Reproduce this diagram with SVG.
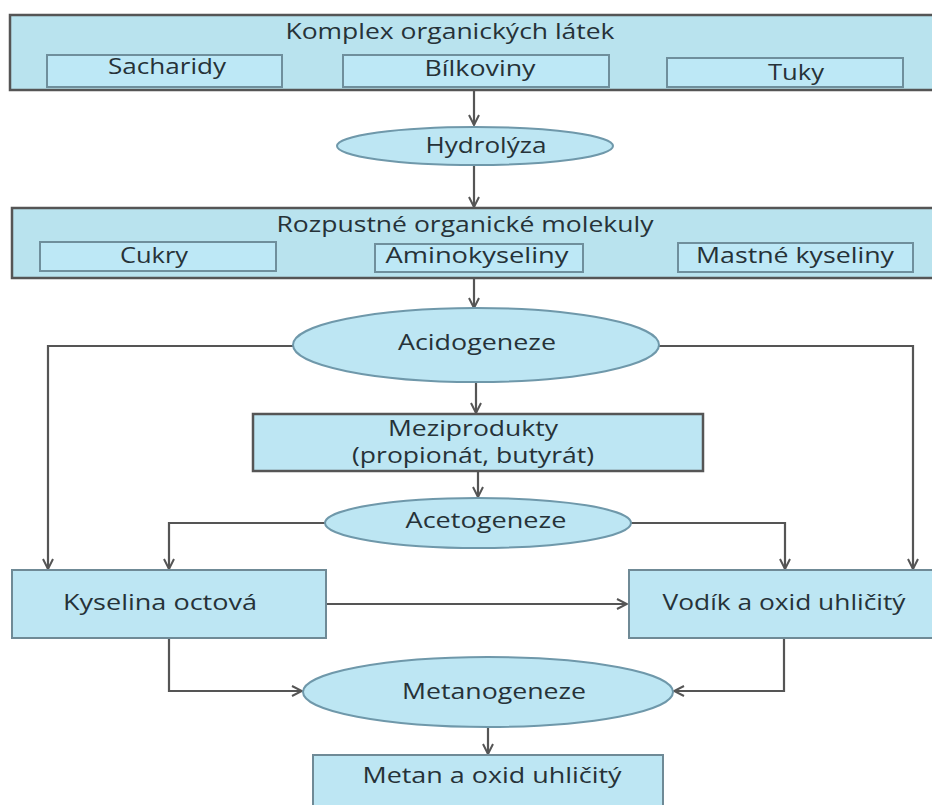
<svg xmlns="http://www.w3.org/2000/svg" width="932" height="805" viewBox="0 0 932 805">
<style>
.outer{fill:#b9e3ee;stroke:#555;stroke-width:2.5}
.inner{fill:#bde8f6;stroke:#6f8f9c;stroke-width:2}
.box{fill:#bde6f3;stroke:#6f8a96;stroke-width:2}
.ell{fill:#bde6f3;stroke:#6f98aa;stroke-width:2}
.mbox{fill:#bde6f3;stroke:#555;stroke-width:2.5}
text{font-family:"Open Sans","Liberation Sans",sans-serif;font-size:22px;font-weight:500;fill:#263238;text-anchor:middle}
.conn path{fill:none;stroke:#555;stroke-width:2.2}
</style>
<defs>
<marker id="arr" viewBox="0 0 12 12" refX="11" refY="6" markerWidth="12" markerHeight="12" markerUnits="userSpaceOnUse" orient="auto">
<path d="M1,1 L11,6 L1,11" fill="none" stroke="#555" stroke-width="2"/>
</marker>
</defs>
<rect width="932" height="805" fill="#fff"/>

<g class="conn">
<path d="M474,90 V125" marker-end="url(#arr)"/>
<path d="M474,165 V207" marker-end="url(#arr)"/>
<path d="M474,278 V308" marker-end="url(#arr)"/>
<path d="M476,383 V413" marker-end="url(#arr)"/>
<path d="M478,471 V497" marker-end="url(#arr)"/>
<path d="M293,346 H48 V569" marker-end="url(#arr)"/>
<path d="M659,346 H913 V569" marker-end="url(#arr)"/>
<path d="M325,523 H169 V569" marker-end="url(#arr)"/>
<path d="M631,523 H785 V569" marker-end="url(#arr)"/>
<path d="M326,604 H627" marker-end="url(#arr)"/>
<path d="M169,638 V691 H302" marker-end="url(#arr)"/>
<path d="M784,638 V691 H674" marker-end="url(#arr)"/>
<path d="M488,727 V754" marker-end="url(#arr)"/>
</g>

<g id="komplex">
<rect class="outer" x="10" y="15" width="930" height="75"/>
<text x="450" y="39" textLength="329" lengthAdjust="spacingAndGlyphs">Komplex organických látek</text>
<rect class="inner" x="47" y="55" width="235" height="32"/>
<text x="167" y="74" textLength="118" lengthAdjust="spacingAndGlyphs">Sacharidy</text>
<rect class="inner" x="343" y="55" width="266" height="32"/>
<text x="480" y="76" textLength="111" lengthAdjust="spacingAndGlyphs">Bílkoviny</text>
<rect class="inner" x="667" y="58" width="236" height="29"/>
<text x="796" y="80" textLength="56" lengthAdjust="spacingAndGlyphs">Tuky</text>
</g>

<g id="hydrolyza">
<ellipse class="ell" cx="475" cy="146" rx="138" ry="19"/>
<text x="486" y="153" textLength="121" lengthAdjust="spacingAndGlyphs">Hydrolýza</text>
</g>

<g id="rozpustne">
<rect class="outer" x="12" y="208" width="930" height="70"/>
<text x="465" y="232" textLength="377" lengthAdjust="spacingAndGlyphs">Rozpustné organické molekuly</text>
<rect class="inner" x="40" y="242" width="236" height="29"/>
<text x="154" y="263" textLength="68" lengthAdjust="spacingAndGlyphs">Cukry</text>
<rect class="inner" x="375" y="244" width="208" height="28"/>
<text x="477" y="263" textLength="183" lengthAdjust="spacingAndGlyphs">Aminokyseliny</text>
<rect class="inner" x="678" y="243" width="235" height="29"/>
<text x="795" y="263" textLength="198" lengthAdjust="spacingAndGlyphs">Mastné kyseliny</text>
</g>

<g id="acidogeneze">
<ellipse class="ell" cx="476" cy="345" rx="183" ry="37"/>
<text x="477" y="350" textLength="158" lengthAdjust="spacingAndGlyphs">Acidogeneze</text>
</g>

<g id="meziprodukty">
<rect class="mbox" x="253" y="414" width="450" height="57"/>
<text x="473" y="436" font-size="20" textLength="170" lengthAdjust="spacingAndGlyphs">Meziprodukty</text>
<text x="473" y="463" font-size="20" textLength="242" lengthAdjust="spacingAndGlyphs">(propionát, butyrát)</text>
</g>

<g id="acetogeneze">
<ellipse class="ell" cx="478" cy="523" rx="153" ry="25"/>
<text x="486" y="528" textLength="161" lengthAdjust="spacingAndGlyphs">Acetogeneze</text>
</g>

<g id="kyselina">
<rect class="box" x="12" y="570" width="314" height="68"/>
<text x="160" y="610" textLength="194" lengthAdjust="spacingAndGlyphs">Kyselina octová</text>
</g>

<g id="vodik">
<rect class="box" x="629" y="570" width="310" height="68"/>
<text x="784" y="610" textLength="243" lengthAdjust="spacingAndGlyphs">Vodík a oxid uhličitý</text>
</g>

<g id="metanogeneze">
<ellipse class="ell" cx="488" cy="692" rx="185" ry="35"/>
<text x="494" y="699" textLength="184" lengthAdjust="spacingAndGlyphs">Metanogeneze</text>
</g>

<g id="metan">
<rect class="box" x="313" y="755" width="350" height="60"/>
<text x="492" y="783" textLength="259" lengthAdjust="spacingAndGlyphs">Metan a oxid uhličitý</text>
</g>
</svg>
